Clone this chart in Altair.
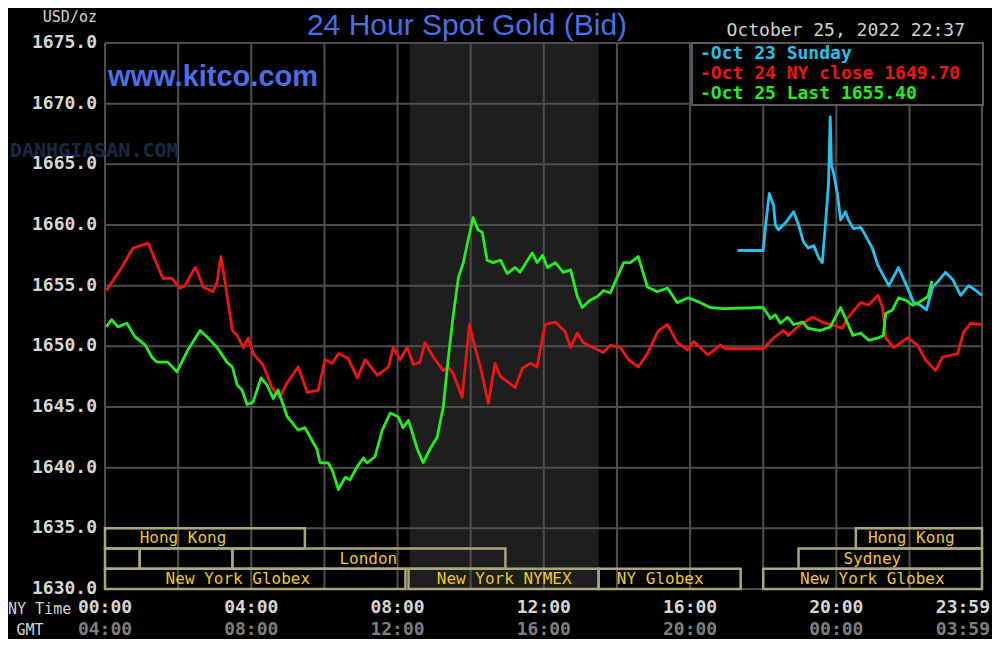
import altair as alt
import pandas as pd

# ---------------- data (minutes after 00:00 NY time, USD/oz) ----------------
red_min = [2,25,46,71,79,95,110,123,131,148,153,161,177,184,190,195,202,209,217,227,
           235,243,259,274,287,299,317,332,350,361,373,383,399,414,427,447,465,473,484,496,
           506,517,525,539,555,563,571,586,598,604,616,629,640,649,660,673,685,698,709,714,
           722,739,755,764,775,785,801,818,829,846,859,875,890,908,923,939,956,966,989,1010,
           1018,1080,1097,1113,1121,1141,1161,1177,1190,1210,1218,1240,1253,1268,1276,1281,1294,1317,1333,1346,
           1363,1374,1399,1409,1420,1439]
red_val = [1654.6,1656.3,1658.1,1658.5,1657.5,1655.6,1655.6,1654.8,1655.0,1656.5,
           1656.0,1654.9,1654.5,1655.3,1657.4,1656.0,1653.6,1651.3,1650.9,1649.9,
           1650.7,1649.4,1648.5,1646.6,1645.8,1647.0,1648.3,1646.2,1646.4,1648.9,
           1648.6,1649.4,1649.0,1647.4,1648.9,1647.6,1648.3,1649.9,1648.9,1649.9,
           1648.5,1648.7,1650.3,1649.1,1648.0,1648.3,1647.8,1645.8,1651.8,1650.5,
           1648.3,1645.3,1648.6,1647.5,1647.1,1646.6,1648.2,1648.6,1648.3,1649.7,
           1651.8,1652.0,1651.2,1649.9,1651.1,1650.3,1649.9,1649.5,1650.1,1649.9,
           1648.9,1648.3,1649.4,1651.3,1651.8,1650.3,1649.7,1650.4,1649.3,1650.1,
           1649.8,1649.8,1650.7,1651.3,1650.9,1651.8,1652.4,1652.0,1651.8,1651.5,
           1652.3,1653.6,1653.4,1654.2,1653.2,1650.7,1649.9,1650.7,1650.1,1648.9,
           1648.0,1649.1,1649.4,1651.2,1651.9,1651.8]

green_min = [2,11,21,36,49,66,77,85,103,118,136,156,169,184,200,209,217,225,233,243,
             256,266,276,284,299,317,328,348,353,366,373,383,394,402,414,424,430,443,455,468,
             481,489,498,512,522,534,545,555,563,571,580,588,596,604,612,619,627,637,649,660,
             673,681,701,709,718,726,739,752,764,775,783,796,808,818,829,851,862,875,890,906,
             923,939,957,977,993,1015,1080,1092,1100,1108,1120,1130,1145,1153,1174,1190,1207,1215,1227,1240,
             1253,1269,1277,1281,1292,1302,1314,1325,1335,1350,1357]
green_val = [1651.6,1652.2,1651.6,1651.9,1650.8,1650.1,1649.1,1648.7,1648.7,1647.9,
             1649.7,1651.3,1650.7,1649.9,1648.7,1648.3,1646.8,1646.4,1645.2,1645.4,
             1647.4,1646.8,1645.7,1646.4,1644.2,1643.1,1643.3,1641.5,1640.4,1640.4,
             1639.8,1638.2,1639.2,1639.0,1640.1,1640.8,1640.4,1640.9,1643.1,1644.5,
             1644.2,1643.3,1643.9,1641.6,1640.4,1641.6,1642.5,1645.0,1648.9,1652.4,
             1655.7,1656.9,1658.8,1660.6,1659.6,1659.4,1657.1,1656.9,1657.1,1656.0,
             1656.5,1656.1,1657.7,1656.9,1657.5,1656.5,1656.9,1656.1,1656.3,1654.1,
             1653.2,1653.8,1654.1,1654.6,1654.4,1656.9,1656.9,1657.4,1654.9,1654.5,
             1654.8,1653.6,1654.0,1653.6,1653.2,1653.1,1653.2,1652.3,1652.6,1651.9,
             1652.4,1651.8,1652.0,1651.5,1651.3,1651.6,1653.2,1652.3,1650.9,1651.1,
             1650.5,1650.7,1650.9,1652.7,1653.0,1654.0,1653.8,1653.4,1653.6,1654.1,
             1655.4]

cyan_min = [1038,1080,1084,1090,1097,1100,1105,1117,1130,1138,1146,1154,1163,1171,1177,1182,1187,1190,1192,1195,
            1202,1207,1215,1220,1228,1240,1245,1259,1268,1286,1302,1317,1327,1338,1348,1358,1366,1379,1391,1404,
            1417,1429,1439]
cyan_val = [1657.9,1657.9,1660.0,1662.6,1661.6,1660.0,1659.6,1660.2,1661.1,1660.0,
            1658.6,1658.1,1658.3,1657.3,1656.9,1660.0,1663.3,1668.9,1664.9,1664.4,
            1662.5,1660.4,1661.1,1660.4,1659.7,1659.8,1659.4,1658.1,1656.7,1655.0,
            1656.5,1654.8,1653.6,1653.4,1653.0,1654.9,1655.3,1656.1,1655.5,1654.2,
            1655.0,1654.6,1654.2]

y_ticks = [1630, 1635, 1640, 1645, 1650, 1655, 1660, 1665, 1670, 1675]
x_grid = [0, 120, 240, 360, 480, 600, 720, 840, 960, 1080, 1200, 1320, 1439]
tick_min = [0, 240, 480, 720, 960, 1200, 1439]
ny_labels = ["00:00", "04:00", "08:00", "12:00", "16:00", "20:00", "23:59"]
gmt_labels = ["04:00", "08:00", "12:00", "16:00", "20:00", "00:00", "03:59"]

nymex_open, nymex_close = 500, 810

sess_name = ["Hong Kong", "Hong Kong", "", "", "London", "Sydney",
             "New York Globex", "New York NYMEX", "NY Globex", "New York Globex"]
sess_start = [0, 1232, 0, 57, 209, 1138, 0, 498, 810, 1080]
sess_end = [328, 1439, 57, 209, 657, 1439, 493, 810, 1043, 1439]
sess_row = [0, 0, 1, 1, 1, 1, 2, 2, 2, 2]
sess_label_at = [128, 1323, 28, 133, 432, 1259, 218, 655, 911, 1259]

legend_text = ["-Oct 23 Sunday", "-Oct 24 NY close 1649.70", "-Oct 25 Last 1655.40"]
legend_color = ["#22c3f0", "#f21414", "#22ee22"]

# ---------------- build ----------------
W, H = 877, 546
MONO = "DejaVu Sans Mono"
xs = alt.Scale(domain=[0, 1439], nice=False, zero=False)
ys = alt.Scale(domain=[1630, 1675], nice=False, zero=False)

series = pd.concat([
    pd.DataFrame({"m": red_min, "p": red_val, "s": "Oct 24"}),
    pd.DataFrame({"m": cyan_min, "p": cyan_val, "s": "Oct 23"}),
    pd.DataFrame({"m": green_min, "p": green_val, "s": "Oct 25"}),
])

row_h = 5 / 3
sess = pd.DataFrame({
    "name": sess_name, "start": sess_start, "end": sess_end, "row": sess_row,
    "lab": sess_label_at,
})
sess["top"] = 1635 - sess["row"] * row_h
sess["bot"] = sess["top"] - row_h
sess["mid"] = (sess["top"] + sess["bot"]) / 2

shade = alt.Chart(pd.DataFrame({"s": [nymex_open], "e": [nymex_close]})).mark_rect(
    color="#1d1e1d").encode(
    x=alt.X("s:Q", scale=xs, axis=None), x2="e:Q", y=alt.value(0), y2=alt.value(H))

hgrid = alt.Chart(pd.DataFrame({"p": y_ticks})).mark_rule(
    color="#4e4e4e", strokeWidth=2).encode(y=alt.Y("p:Q", scale=ys, axis=None))
vgrid = alt.Chart(pd.DataFrame({"m": x_grid})).mark_rule(
    color="#4e4e4e", strokeWidth=2).encode(x=alt.X("m:Q", scale=xs, axis=None))

boxes = alt.Chart(sess).mark_rect(
    fillOpacity=0, stroke="#a9a678", strokeWidth=2.5).encode(
    x=alt.X("start:Q", scale=xs, axis=None), x2="end:Q",
    y=alt.Y("top:Q", scale=ys, axis=None), y2="bot:Q")
box_text = alt.Chart(sess).mark_text(
    font=MONO, fontSize=16, color="#f2c81e", baseline="middle").encode(
    x=alt.X("lab:Q", scale=xs, axis=None), y=alt.Y("mid:Q", scale=ys, axis=None),
    text="name:N")

lines = alt.Chart(series).mark_line(strokeWidth=2.8, strokeJoin="round").encode(
    x=alt.X("m:Q", scale=xs, axis=None),
    y=alt.Y("p:Q", scale=ys, axis=None),
    color=alt.Color("s:N", scale=alt.Scale(domain=["Oct 24", "Oct 23", "Oct 25"],
                                           range=["#f21414", "#22c3f0", "#22ee22"]),
                    legend=None),
    order=alt.Order("m:Q"),
    detail="s:N")

ylab = alt.Chart(pd.DataFrame({"p": y_ticks})).mark_text(
    font=MONO, fontSize=18, fontWeight="bold", color="#d6d6d6", align="right",
    baseline="middle").encode(
    x=alt.value(-8), y=alt.Y("p:Q", scale=ys, axis=None),
    text=alt.Text("p:Q", format=".1f"))

ticks = pd.DataFrame({"m": tick_min, "ny": ny_labels, "gmt": gmt_labels})
ny_lab = alt.Chart(ticks).transform_filter("datum.m < 1439").mark_text(
    font=MONO, fontSize=18, fontWeight="bold", color="#d6d6d6", baseline="middle").encode(
    x=alt.X("m:Q", scale=xs, axis=None), y=alt.value(H + 19), text="ny:N")
gmt_lab = alt.Chart(ticks).transform_filter("datum.m < 1439").mark_text(
    font=MONO, fontSize=18, fontWeight="bold", color="#7e7e7e", baseline="middle").encode(
    x=alt.X("m:Q", scale=xs, axis=None), y=alt.value(H + 41), text="gmt:N")
ny_last = alt.Chart(ticks).transform_filter("datum.m == 1439").mark_text(
    font=MONO, fontSize=18, fontWeight="bold", color="#d6d6d6", baseline="middle",
    align="right", dx=8).encode(
    x=alt.X("m:Q", scale=xs, axis=None), y=alt.value(H + 19), text="ny:N")
gmt_last = alt.Chart(ticks).transform_filter("datum.m == 1439").mark_text(
    font=MONO, fontSize=18, fontWeight="bold", color="#7e7e7e", baseline="middle",
    align="right", dx=8).encode(
    x=alt.X("m:Q", scale=xs, axis=None), y=alt.value(H + 41), text="gmt:N")

one = pd.DataFrame({"k": [0]})


def label(txt, x, y, **kw):
    return alt.Chart(one).mark_text(text=txt, **kw).encode(x=alt.value(x), y=alt.value(y))


watermark = label("DANHGIASAN.COM", -95, 108, font=MONO, fontSize=20, fontWeight="bold",
                  color="#152b45", align="left", baseline="middle")
usd = label("USD/oz", -8, -26, font=MONO, fontSize=15, color="#d6d6d6", align="right",
            baseline="middle")
title = label("24 Hour Spot Gold (Bid)", 362, -8, font="Liberation Sans", fontSize=30,
              color="#4a6fe6", align="center", baseline="alphabetic")
kitco = label("www.kitco.com", 3, 34, font="Liberation Sans", fontSize=29, fontWeight="bold",
              color="#4a6fe6", align="left", baseline="middle")
date = label("October 25, 2022 22:37", 860, -12, font=MONO, fontSize=18, color="#d0d0d0",
             align="right", baseline="middle")
ny_time = label("NY Time", -97, H + 20, font=MONO, fontSize=15, color="#d6d6d6",
                align="left", baseline="middle")
gmt_txt = label("GMT", -75, H + 41, font=MONO, fontSize=15, color="#d6d6d6",
                align="center", baseline="middle")

legend_box = alt.Chart(one).mark_rect(fill="#000000", stroke="#5a5a5a", strokeWidth=2).encode(
    x=alt.value(587), x2=alt.value(878), y=alt.value(0), y2=alt.value(62))
legend_rows = [
    label(t, 595, 11 + 20 * i, font=MONO, fontSize=18, fontWeight="bold", color=c,
          align="left", baseline="middle")
    for i, (t, c) in enumerate(zip(legend_text, legend_color))
]

chart = alt.layer(
    shade, hgrid, vgrid, boxes, box_text, watermark, lines, legend_box, *legend_rows,
    ylab, ny_lab, gmt_lab, ny_last, gmt_last, usd, title, kitco, date, ny_time, gmt_txt,
).resolve_scale(y="independent").properties(
    width=W, height=H,
    padding={"left": 97, "top": 35, "right": 10, "bottom": 50},
    autosize=alt.AutoSizeParams(type="none"),
    background="#000000",
).configure_view(strokeWidth=0)

chart.save("out.html", embed_options={"renderer": "svg", "actions": False})
